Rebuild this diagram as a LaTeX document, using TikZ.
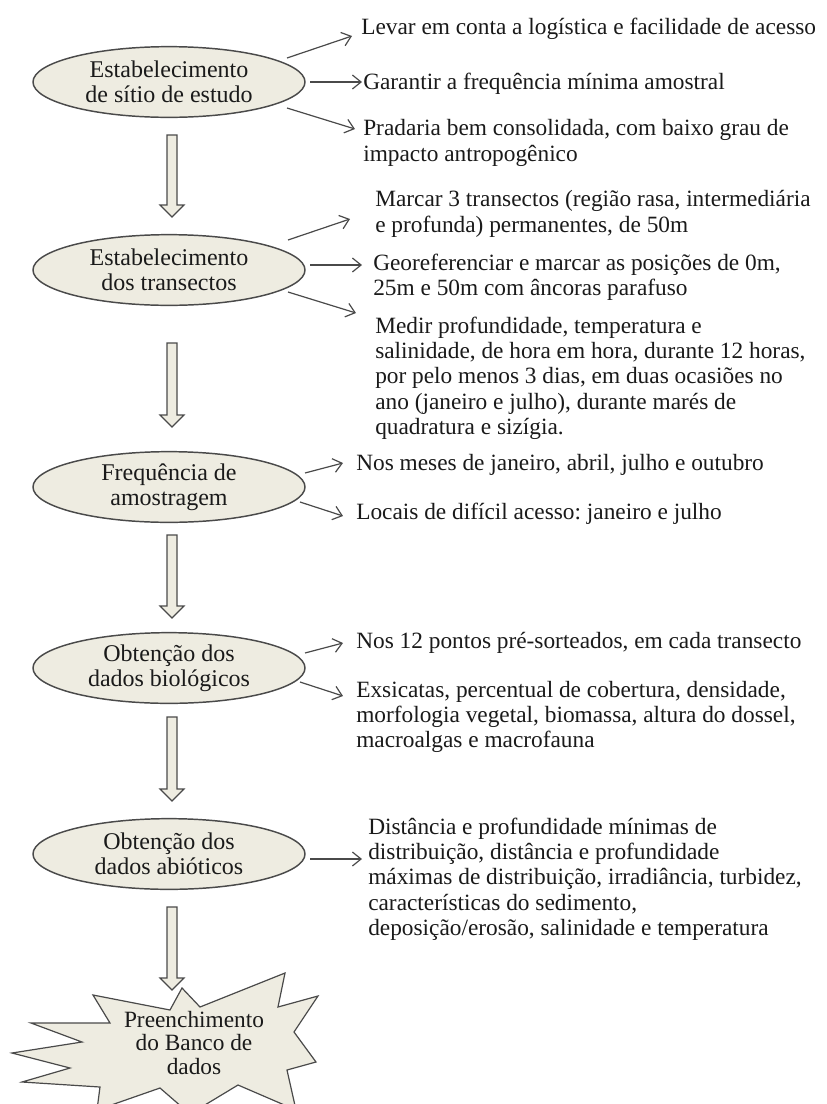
\documentclass[tikz,border=0pt]{standalone}
\usepackage{fontspec}
\setmainfont{Liberation Serif}
\frenchspacing
\usetikzlibrary{shapes.geometric,arrows.meta}
\definecolor{boxfill}{HTML}{EEECE1}
\definecolor{edge}{HTML}{4A4A4A}
\definecolor{ink}{HTML}{1A1A1A}
\tikzset{
  ell/.style={ellipse, draw=edge, line width=1.1pt, fill=boxfill, minimum width=204pt,
    minimum height=53pt, inner sep=0pt, align=center, text=ink,
    font=\fontsize{18}{18.75}\selectfont},
  txt/.style={anchor=west, align=left, inner sep=0pt, text=ink,
    font=\fontsize{17.5}{19}\selectfont},
  conn/.style={draw=edge, line width=0.9pt, -{Straight Barb[length=6.5pt,width=10.5pt]}},
  blk/.style={draw=edge, line width=0.9pt, fill=boxfill, line join=miter},
}
\begin{document}
\frenchspacing
\begin{tikzpicture}[x=0.75pt,y=-0.75pt]
\useasboundingbox (0,0) rectangle (826,1104);
\fill[white] (0,0) rectangle (826,1104);

% ellipses
\node[ell] (e1) at (169,82) {Estabelecimento\\de sítio de estudo};
\node[ell] (e2) at (169,270) {Estabelecimento\\dos transectos};
\node[ell] (e3) at (169,487) {Frequência de\\amostragem};
\node[ell] (e4) at (169,668) {Obtenção dos\\dados biológicos};
\node[ell] (e5) at (169,854) {Obtenção dos\\dados abióticos};

% block arrows
\draw[blk] (167,135) -- (177,135) -- (177,205) -- (184,205) -- (172,217) -- (160,205) -- (167,205) -- cycle;
\draw[blk] (167,343) -- (177,343) -- (177,415) -- (184,415) -- (172,427) -- (160,415) -- (167,415) -- cycle;
\draw[blk] (167,535) -- (177,535) -- (177,606) -- (184,606) -- (172,618) -- (160,606) -- (167,606) -- cycle;
\draw[blk] (167,717) -- (177,717) -- (177,789) -- (184,789) -- (172,801) -- (160,789) -- (167,789) -- cycle;
\draw[blk] (167,907) -- (177,907) -- (177,978) -- (184,978) -- (172,990) -- (160,978) -- (167,978) -- cycle;

% star
\draw[blk] (93,995) -- (170,1010) -- (182,988) -- (200,1007) -- (285,973) -- (278,1007)
  -- (318,996) -- (294,1032) -- (316,1062) -- (287,1070) -- (296,1110) -- (238,1085)
  -- (190,1114) -- (160,1088) -- (97,1110) -- (100,1087) -- (22,1082) -- (70,1068)
  -- (12,1053) -- (82,1042) -- (31,1023) -- (110,1023) -- cycle;
\node[align=center, inner sep=0pt, text=ink, font=\fontsize{17.5}{17.6}\selectfont] (star) at (194,1043)
  {Preenchimento\\do Banco de\\dados};

% texts
\node[txt] (t1a) at (361,29) {Levar em conta a logística e facilidade de acesso};
\node[txt] (t1b) at (363,84) {Garantir a frequência mínima amostral};
\node[txt] (t1c) at (363,143) {Pradaria bem consolidada, com baixo grau de\\impacto antropogênico};
\node[txt] (t2a) at (375,214) {Marcar 3 transectos (região rasa, intermediária\\e profunda) permanentes, de 50m};
\node[txt] (t2b) at (373,277) {Georeferenciar e marcar as posições de 0m,\\25m e 50m com âncoras parafuso};
\node[txt] (t2c) at (375,378) {Medir profundidade, temperatura e\\salinidade, de hora em hora, durante 12 horas,\\por pelo menos 3 dias, em duas ocasiões no\\ano (janeiro e julho), durante marés de\\quadratura e sizígia.};
\node[txt] (t3a) at (356,465) {Nos meses de janeiro, abril, julho e outubro};
\node[txt] (t3b) at (356,514) {Locais de difícil acesso: janeiro e julho};
\node[txt] (t4a) at (356,643) {Nos 12 pontos pré-sorteados, em cada transecto};
\node[txt] (t4b) at (356,717) {Exsicatas, percentual de cobertura, densidade,\\morfologia vegetal, biomassa, altura do dossel,\\macroalgas e macrofauna};
\node[txt] (t5a) at (368,879) {Distância e profundidade mínimas de\\distribuição, distância e profundidade\\máximas de distribuição, irradiância, turbidez,\\características do sedimento,\\deposição/erosão, salinidade e temperatura};

% connector end points
\coordinate (s1a) at (287,58);  \coordinate (f1a) at (352,36);
\coordinate (s1b) at (310,82);  \coordinate (f1b) at (362,82);
\coordinate (s1c) at (287,108); \coordinate (f1c) at (355,129);
\coordinate (s2a) at (288,240); \coordinate (f2a) at (350,219);
\coordinate (s2b) at (310,265); \coordinate (f2b) at (362,265);
\coordinate (s2c) at (288,292); \coordinate (f2c) at (356,313);
\coordinate (s3a) at (305,473); \coordinate (f3a) at (343,463);
\coordinate (s3b) at (300,502); \coordinate (f3b) at (343,516);
\coordinate (s4a) at (305,653); \coordinate (f4a) at (343,643);
\coordinate (s4b) at (300,682); \coordinate (f4b) at (343,696);
\coordinate (s5a) at (310,859); \coordinate (f5a) at (362,859);

\foreach \k in {1a,1b,1c,2a,2b,2c,3a,3b,4a,4b,5a}
  \draw[conn] (s\k) -- (f\k);
\end{tikzpicture}
\end{document}
